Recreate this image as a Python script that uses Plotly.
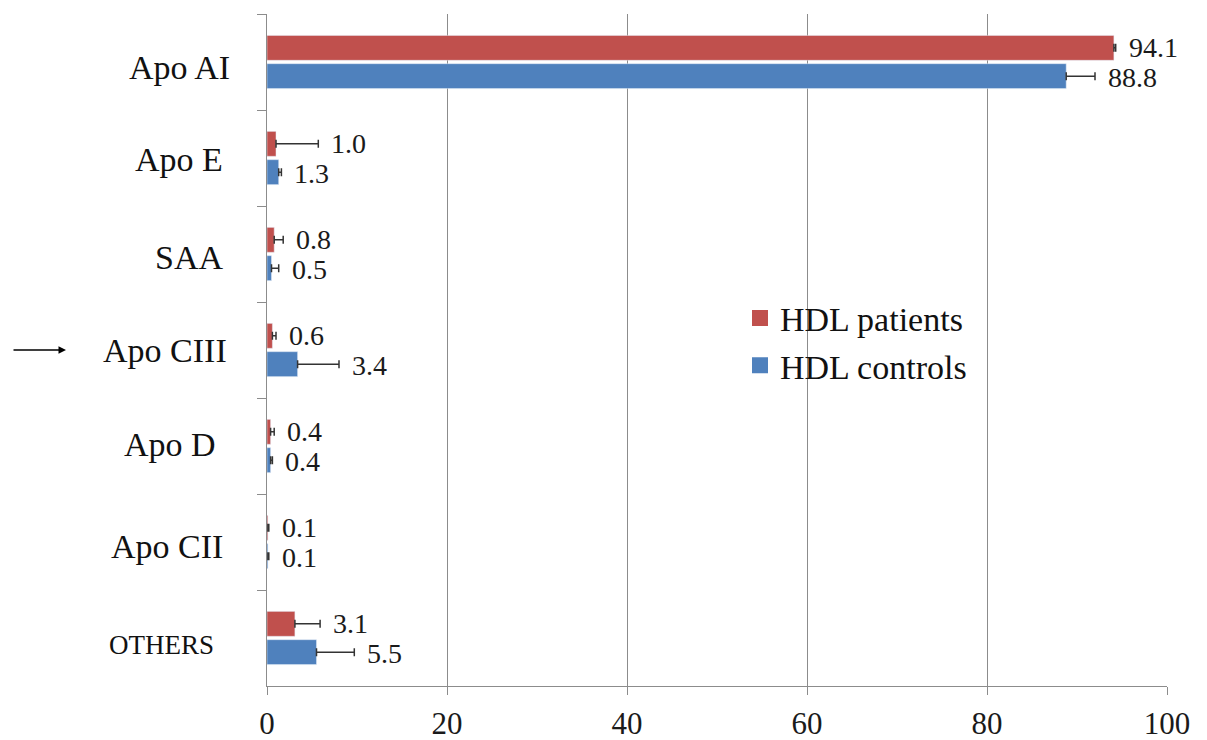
import plotly.graph_objects as go

categories = ["Apo AI", "Apo E", "SAA", "Apo CIII", "Apo D", "Apo CII", "OTHERS"]
patients = [94.1, 1.0, 0.8, 0.6, 0.4, 0.1, 3.1]
patients_err = [0.2, 4.7, 1.0, 0.4, 0.4, 0.1, 2.8]
controls = [88.8, 1.3, 0.5, 3.4, 0.4, 0.1, 5.5]
controls_err = [3.2, 0.3, 0.8, 4.6, 0.2, 0.1, 4.2]
x_ticks = [0, 20, 40, 60, 80, 100]

RED = "#C0504D"
BLUE = "#4F81BD"
FONT = "Liberation Serif"

# page body has an 8px margin; figure size/margins compensate
PAGE = 8
W, H = 1207 - PAGE, 740 - PAGE
L, R, T, B = 267 - PAGE, 40, 14 - PAGE, 54
PW = W - L - R
PH = H - T - B


def px_to_paper_x(px):
    return (px - PAGE - L) / PW


def px_to_paper_y(py):
    return 1 - (py - PAGE - T) / PH


fig = go.Figure()
for name, vals, errs, color in (("HDL patients", patients, patients_err, RED),
                                ("HDL controls", controls, controls_err, BLUE)):
    fig.add_trace(go.Bar(
        y=categories, x=vals, orientation="h", name=name, showlegend=False,
        marker=dict(color=color),
        error_x=dict(type="data", array=errs, arrayminus=[0] * len(vals),
                     symmetric=False, color="#333333", thickness=1.5, width=4),
    ))
# legend entries with larger square swatches
for name, color in (("HDL patients", RED), ("HDL controls", BLUE)):
    fig.add_trace(go.Scatter(
        x=[None], y=[None], mode="markers", name=name, showlegend=True,
        marker=dict(symbol="square", size=16, color=color),
    ))

annotations = []
# value labels after error bars
for i, c in enumerate(categories):
    for vals, errs, off in ((patients, patients_err, -1), (controls, controls_err, 1)):
        annotations.append(dict(
            x=vals[i] + errs[i], y=c, xref="x", yref="y",
            text=f"{vals[i]:.1f}", showarrow=False, xanchor="left",
            xshift=11, yshift=-off * 15,
            font=dict(family=FONT, size=28, color="#1a1a1a"),
        ))

# category labels (drawn as annotations to mimic their placement)
label_centers = [179, 179, 189, 165, 170, 167, 161]
label_sizes = [34, 34, 34, 34, 34, 34, 27]
label_yshift = [-5, -1, -3, 0, 2, -4, -7]
for c, cx, sz, ys in zip(categories, label_centers, label_sizes, label_yshift):
    annotations.append(dict(
        x=px_to_paper_x(cx), y=c, xref="paper", yref="y", text=c, showarrow=False,
        xanchor="center", yshift=ys, font=dict(family=FONT, size=sz, color="#111111"),
    ))

# arrow pointing at Apo CIII
annotations.append(dict(
    x=px_to_paper_x(66), y="Apo CIII", xref="paper", yref="y", text="",
    showarrow=True, ax=-54, ay=0, arrowhead=2, arrowsize=1, arrowwidth=1.5,
    arrowcolor="#000000", yshift=0,
))

fig.update_layout(
    width=W, height=H,
    margin=dict(l=L, r=R, t=T, b=B),
    paper_bgcolor="white", plot_bgcolor="white",
    barmode="group", bargap=0.41, bargroupgap=0.12,
    font=dict(family=FONT, size=30, color="#1a1a1a"),
    showlegend=True,
    legend=dict(
        x=px_to_paper_x(740), y=px_to_paper_y(342), xanchor="left", yanchor="middle",
        bgcolor="rgba(0,0,0,0)", font=dict(family=FONT, size=34, color="#111111"),
        traceorder="normal", itemsizing="trace",
    ),
    annotations=annotations,
)
fig.update_xaxes(
    range=[0, 100], tickvals=x_ticks, ticktext=[str(v) for v in x_ticks],
    showgrid=True, gridcolor="#8c8c8c", gridwidth=1.3,
    showline=True, linecolor="#8c8c8c", linewidth=1.3,
    zeroline=False, ticks="outside", ticklen=8, tickcolor="#8c8c8c", tickwidth=1.3,
    ticklabelstandoff=2, automargin=False,
    tickfont=dict(family=FONT, size=31, color="#1a1a1a"),
)
fig.update_yaxes(
    categoryorder="array", categoryarray=categories, autorange="reversed",
    showticklabels=False, showgrid=False, showline=True, linecolor="#8c8c8c", linewidth=1.3,
    ticks="outside", tickson="boundaries", ticklen=9, tickcolor="#8c8c8c", tickwidth=1.3,
    automargin=False,
)

fig.write_html("out.html")
